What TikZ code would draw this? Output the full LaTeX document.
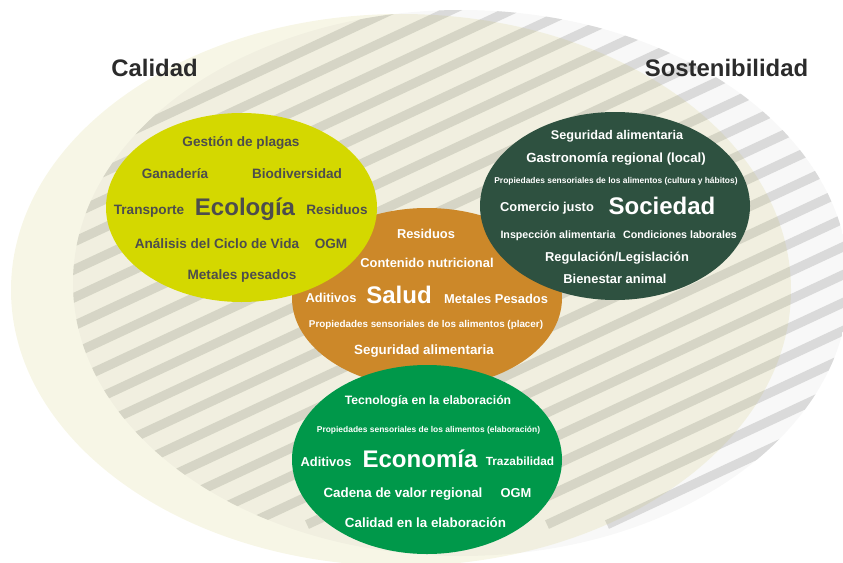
\documentclass[tikz,border=0pt]{standalone}
\usepackage{fontspec}
\setmainfont{Liberation Sans}
\usepackage{tikz}

\definecolor{calidadcol}{RGB}{194,186,64}
\definecolor{stripebg}{RGB}{248,248,248}
\definecolor{stripefg}{RGB}{218,218,218}
\definecolor{ecocol}{RGB}{212,216,0}
\definecolor{saludcol}{RGB}{204,136,41}
\definecolor{soccol}{RGB}{46,81,64}
\definecolor{econcol}{RGB}{0,152,74}
\definecolor{ecotext}{RGB}{77,77,77}
\definecolor{titletext}{RGB}{43,43,43}

\newcommand{\lblsize}[1]{\bfseries\fontsize{#1}{13}\selectfont}

\begin{document}
\begin{tikzpicture}[%
    x=0.03cm, y=-0.03cm,
    lbl/.style={font=\lblsize{11}, inner sep=0pt, text height=7.9pt, text depth=0pt},
    smalllbl/.style={font=\lblsize{7.2}, inner sep=0pt, text height=5.2pt, text depth=0pt},
    bigword/.style={font=\lblsize{20.5}, inner sep=0pt, text height=14.8pt, text depth=0pt},
    titlelbl/.style={font=\lblsize{20.4}, inner sep=0pt, text height=14.7pt, text depth=0pt, text=titletext},
    stripe/.style={stripefg, line width=0.28cm}
  ]
    \useasboundingbox (0,0) rectangle (843,563);

    % Sostenibilidad (striped)
    \begin{scope}
      \clip (461,283) ellipse [x radius=388, y radius=273];
      \fill[stripebg] (0,0) rectangle (900,600);
      \foreach \k in {-8,...,28}
        \draw[stripe] ({447+60*\k-1100},{12+0.466*1100}) -- ({447+60*\k+1100},{12-0.466*1100});
    \end{scope}

    % Calidad
    \fill[calidadcol, fill opacity=0.13] (401,290) ellipse [x radius=390, y radius=276];

    \node[titlelbl] (calidad) at (154.5,68) {Calidad};
    \node[titlelbl] (sosten) at (726.5,68) {Sostenibilidad};

    % the four fields
    \fill[saludcol] (427,298) ellipse [x radius=135, y radius=90];
    \fill[ecocol] (241.5,207.5) ellipse [x radius=135.5, y radius=94.5];
    \fill[soccol] (615,206) ellipse [x radius=135, y radius=94];
    \fill[econcol] (427,459.5) ellipse [x radius=135, y radius=94.5];

    % Ecologia
    \begin{scope}[text=ecotext, lbl/.append style={font=\lblsize{11.6}}]
      \node[lbl] (eco1) at (241,142) {Gestión de plagas};
      \node[lbl] (eco2) at (175,174) {Ganadería};
      \node[lbl] (eco3) at (297,174) {Biodiversidad};
      \node[lbl] (eco4) at (149,210) {Transporte};
      \node[bigword] (eco) at (245,207) {Ecología};
      \node[lbl] (eco5) at (337,210) {Residuos};
      \node[lbl] (eco6) at (217,244) {Análisis del Ciclo de Vida};
      \node[lbl] (eco7) at (331,244) {OGM};
      \node[lbl] (eco8) at (242,275) {Metales pesados};
    \end{scope}

    % Sociedad
    \begin{scope}[text=white]
      \node[lbl, font=\lblsize{10.8}] (soc1) at (617,135) {Seguridad alimentaria};
      \node[lbl, font=\lblsize{11.3}] (soc2) at (616,158) {Gastronomía regional (local)};
      \node[smalllbl] (soc3) at (616,180) {Propiedades sensoriales de los alimentos (cultura y hábitos)};
      \node[lbl] (soc4) at (547,207) {Comercio justo};
      \node[bigword] (soc) at (662,206) {Sociedad};
      \node[lbl, font=\lblsize{9.1}] (soc5) at (558,234) {Inspección alimentaria};
      \node[lbl, font=\lblsize{9.1}] (soc6) at (680,234) {Condiciones laborales};
      \node[lbl] (soc7) at (617,257) {Regulación/Legislación};
      \node[lbl] (soc8) at (615,279) {Bienestar animal};
    \end{scope}

    % Salud
    \begin{scope}[text=white]
      \node[lbl] (sal1) at (426,234) {Residuos};
      \node[lbl] (sal2) at (427,263) {Contenido nutricional};
      \node[lbl] (sal3) at (331,298) {Aditivos};
      \node[bigword] (sal) at (399,295) {Salud};
      \node[lbl] (sal4) at (496,299) {Metales Pesados};
      \node[smalllbl, font=\lblsize{8.4}] (sal5) at (426,324) {Propiedades sensoriales de los alimentos (placer)};
      \node[lbl, font=\lblsize{11.4}] (sal6) at (424,350) {Seguridad alimentaria};
    \end{scope}

    % Economia
    \begin{scope}[text=white]
      \node[lbl, font=\lblsize{10.4}] (econ1) at (428,400) {Tecnología en la elaboración};
      \node[smalllbl] (econ2) at (428.5,429) {Propiedades sensoriales de los alimentos (elaboración)};
      \node[lbl] (econ3) at (326,462) {Aditivos};
      \node[bigword] (econ) at (420,459) {Economía};
      \node[lbl, font=\lblsize{10.1}] (econ4) at (520,461) {Trazabilidad};
      \node[lbl, font=\lblsize{11.4}] (econ5) at (403,493) {Cadena de valor regional};
      \node[lbl] (econ6) at (516,493) {OGM};
      \node[lbl, font=\lblsize{11.4}] (econ7) at (425.5,523) {Calidad en la elaboración};
    \end{scope}
  \end{tikzpicture}
\end{document}
